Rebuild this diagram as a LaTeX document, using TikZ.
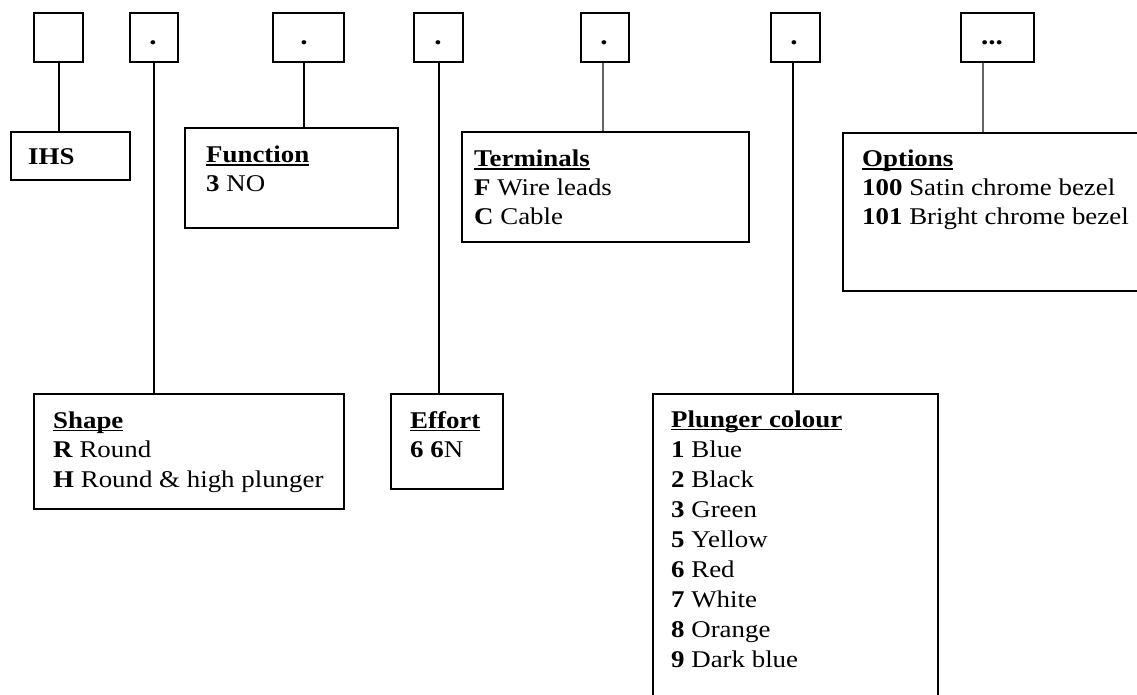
\documentclass[tikz,border=0pt]{standalone}
\usepackage{fontspec}
\setmainfont{Liberation Serif}[FakeStretch=1.12]
\newcommand\myul[1]{\setbox0\hbox{#1}\rlap{\rule[-3pt]{\wd0}{1.5pt}}\box0}
\tikzset{
  box/.style={draw, line width=2pt, rectangle, inner sep=0pt, anchor=north west},
  txt/.style={anchor=base west, inner sep=0pt, font=\fontsize{24}{30}\selectfont},
  dot/.style={anchor=base, inner sep=0pt, font=\fontsize{26}{30}\selectfont\bfseries},
  conn/.style={line width=2pt},
  gconn/.style={line width=2.2pt, draw=black!60},
}
\begin{document}
\begin{tikzpicture}[x=1pt,y=-1pt]
\useasboundingbox (0,0) rectangle (1137,695);
\clip (0,0) rectangle (1137,695);
\fill[white] (0,0) rectangle (1137,695);

% top code boxes
\node[box, minimum width=49, minimum height=49] (b1) at (33,12) {};
\node[box, minimum width=48, minimum height=49] (b2) at (129,12) {};
\node[box, minimum width=71, minimum height=49] (b3) at (272,12) {};
\node[box, minimum width=49, minimum height=49] (b4) at (413,12) {};
\node[box, minimum width=48, minimum height=49] (b5) at (580,12) {};
\node[box, minimum width=49, minimum height=49] (b6) at (770,12) {};
\node[box, minimum width=73, minimum height=49] (b7) at (960,12) {};
\node[dot] (b2t) at (153,45) {.};
\node[dot] (b3t) at (304,45) {.};
\node[dot] (b4t) at (438,45) {.};
\node[dot] (b5t) at (604,45) {.};
\node[dot] (b6t) at (794,45) {.};
\node[dot] (b7t) at (992,45) {...};

% description boxes
\node[box, minimum width=119, minimum height=48] (ihs) at (10,131) {};
\node[box, minimum width=213, minimum height=100] (fn) at (184,127) {};
\node[box, minimum width=287, minimum height=110] (term) at (461,131) {};
\node[box, minimum width=320, minimum height=158] (opt) at (842,132) {};
\node[box, minimum width=310, minimum height=115] (shape) at (33,393) {};
\node[box, minimum width=112, minimum height=95] (eff) at (390,393) {};
\node[box, minimum width=285, minimum height=330] (plg) at (652,393) {};

% connectors
\draw[conn] (b1.south) -- (b1.south |- ihs.north);
\draw[conn] (b2.south) -- (b2.south |- shape.north);
\draw[conn] ([xshift=32pt]b3.south west) -- ([xshift=32pt]b3.south west |- fn.north);
\draw[conn] (b4.south) -- (b4.south |- eff.north);
\draw[gconn] ([xshift=23pt]b5.south west) -- ([xshift=23pt]b5.south west |- term.north);
\draw[conn] ([xshift=23pt]b6.south west) -- ([xshift=23pt]b6.south west |- plg.north);
\draw[gconn] ([xshift=23pt]b7.south west) -- ([xshift=23pt]b7.south west |- opt.north);

% texts
\node[txt] (ihs1) at (28,165) {\textbf{IHS}};

\node[txt] (fn1) at (206,163) {\myul{\textbf{Function}}};
\node[txt] (fn2) at (206,192) {\textbf{3} NO};

\node[txt] (term1) at (474,167) {\myul{\textbf{Terminals}}};
\node[txt] (term2) at (474,196) {\textbf{F} Wire leads};
\node[txt] (term3) at (474,224) {\textbf{C} Cable};

\node[txt] (opt1) at (862,167) {\myul{\textbf{Options}}};
\node[txt] (opt2) at (862,196) {\textbf{100} Satin chrome bezel};
\node[txt] (opt3) at (862,224) {\textbf{101} Bright chrome bezel};

\node[txt] (sh1) at (53,428) {\myul{\textbf{Shape}}};
\node[txt] (sh2) at (53,457) {\textbf{R} Round};
\node[txt] (sh3) at (53,487) {\textbf{H} Round \& high plunger};

\node[txt] (ef1) at (410,428) {\myul{\textbf{Effort}}};
\node[txt] (ef2) at (410,457) {\textbf{6 6}N};

\node[txt] (pl1) at (671,427) {\myul{\textbf{Plunger colour}}};
\node[txt] (pl2) at (671,457) {\textbf{1} Blue};
\node[txt] (pl3) at (671,487) {\textbf{2} Black};
\node[txt] (pl4) at (671,517) {\textbf{3} Green};
\node[txt] (pl5) at (671,547) {\textbf{5} Yellow};
\node[txt] (pl6) at (671,577) {\textbf{6} Red};
\node[txt] (pl7) at (671,607) {\textbf{7} White};
\node[txt] (pl8) at (671,637) {\textbf{8} Orange};
\node[txt] (pl9) at (671,667) {\textbf{9} Dark blue};
\end{tikzpicture}
\end{document}
